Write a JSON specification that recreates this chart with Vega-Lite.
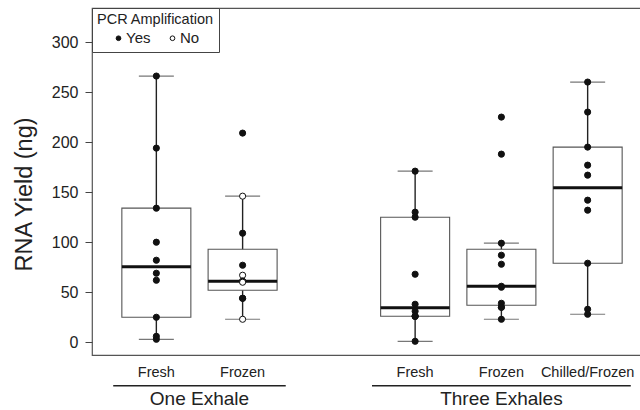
{
  "$schema": "https://vega.github.io/schema/vega-lite/v6.json",
  "autosize": {"type": "none"},
  "padding": {"left": 92, "top": 8, "right": 0, "bottom": 55},
  "width": 560,
  "height": 347,
  "background": "white",
  "config": {
    "view": {"stroke": "#555", "strokeWidth": 1.2},
    "font": "Liberation Sans"
  },
  "datasets": {
    "samples": [
      {"sample": "One Exhale|Fresh", "yield": 266, "pcr": "Yes"},
      {"sample": "One Exhale|Fresh", "yield": 194, "pcr": "Yes"},
      {"sample": "One Exhale|Fresh", "yield": 134, "pcr": "Yes"},
      {"sample": "One Exhale|Fresh", "yield": 100, "pcr": "Yes"},
      {"sample": "One Exhale|Fresh", "yield": 82, "pcr": "Yes"},
      {"sample": "One Exhale|Fresh", "yield": 69, "pcr": "Yes"},
      {"sample": "One Exhale|Fresh", "yield": 62, "pcr": "Yes"},
      {"sample": "One Exhale|Fresh", "yield": 25, "pcr": "Yes"},
      {"sample": "One Exhale|Fresh", "yield": 6, "pcr": "Yes"},
      {"sample": "One Exhale|Fresh", "yield": 3, "pcr": "Yes"},
      {"sample": "One Exhale|Frozen", "yield": 209, "pcr": "Yes"},
      {"sample": "One Exhale|Frozen", "yield": 146, "pcr": "No"},
      {"sample": "One Exhale|Frozen", "yield": 109, "pcr": "Yes"},
      {"sample": "One Exhale|Frozen", "yield": 77, "pcr": "Yes"},
      {"sample": "One Exhale|Frozen", "yield": 67, "pcr": "No"},
      {"sample": "One Exhale|Frozen", "yield": 61, "pcr": "Yes"},
      {"sample": "One Exhale|Frozen", "yield": 61, "pcr": "Yes"},
      {"sample": "One Exhale|Frozen", "yield": 60, "pcr": "No"},
      {"sample": "One Exhale|Frozen", "yield": 44, "pcr": "Yes"},
      {"sample": "One Exhale|Frozen", "yield": 44, "pcr": "Yes"},
      {"sample": "One Exhale|Frozen", "yield": 23, "pcr": "No"},
      {"sample": "Three Exhales|Fresh", "yield": 171, "pcr": "Yes"},
      {"sample": "Three Exhales|Fresh", "yield": 130, "pcr": "Yes"},
      {"sample": "Three Exhales|Fresh", "yield": 125, "pcr": "Yes"},
      {"sample": "Three Exhales|Fresh", "yield": 68, "pcr": "Yes"},
      {"sample": "Three Exhales|Fresh", "yield": 38, "pcr": "Yes"},
      {"sample": "Three Exhales|Fresh", "yield": 31, "pcr": "Yes"},
      {"sample": "Three Exhales|Fresh", "yield": 26, "pcr": "Yes"},
      {"sample": "Three Exhales|Fresh", "yield": 26, "pcr": "Yes"},
      {"sample": "Three Exhales|Fresh", "yield": 26, "pcr": "Yes"},
      {"sample": "Three Exhales|Fresh", "yield": 1, "pcr": "Yes"},
      {"sample": "Three Exhales|Frozen", "yield": 225, "pcr": "Yes"},
      {"sample": "Three Exhales|Frozen", "yield": 188, "pcr": "Yes"},
      {"sample": "Three Exhales|Frozen", "yield": 99, "pcr": "Yes"},
      {"sample": "Three Exhales|Frozen", "yield": 87, "pcr": "Yes"},
      {"sample": "Three Exhales|Frozen", "yield": 78, "pcr": "Yes"},
      {"sample": "Three Exhales|Frozen", "yield": 56, "pcr": "Yes"},
      {"sample": "Three Exhales|Frozen", "yield": 55, "pcr": "Yes"},
      {"sample": "Three Exhales|Frozen", "yield": 39, "pcr": "Yes"},
      {"sample": "Three Exhales|Frozen", "yield": 35, "pcr": "Yes"},
      {"sample": "Three Exhales|Frozen", "yield": 35, "pcr": "Yes"},
      {"sample": "Three Exhales|Frozen", "yield": 23, "pcr": "Yes"},
      {"sample": "Three Exhales|Chilled/Frozen", "yield": 260, "pcr": "Yes"},
      {"sample": "Three Exhales|Chilled/Frozen", "yield": 230, "pcr": "Yes"},
      {"sample": "Three Exhales|Chilled/Frozen", "yield": 195, "pcr": "Yes"},
      {"sample": "Three Exhales|Chilled/Frozen", "yield": 177, "pcr": "Yes"},
      {"sample": "Three Exhales|Chilled/Frozen", "yield": 167, "pcr": "Yes"},
      {"sample": "Three Exhales|Chilled/Frozen", "yield": 142, "pcr": "Yes"},
      {"sample": "Three Exhales|Chilled/Frozen", "yield": 132, "pcr": "Yes"},
      {"sample": "Three Exhales|Chilled/Frozen", "yield": 79, "pcr": "Yes"},
      {"sample": "Three Exhales|Chilled/Frozen", "yield": 33, "pcr": "Yes"},
      {"sample": "Three Exhales|Chilled/Frozen", "yield": 28, "pcr": "Yes"}
    ],
    "boxes": [
      {"sample": "One Exhale|Fresh", "lo": 3, "q1": 25, "median": 75.5, "q3": 134, "hi": 266},
      {"sample": "One Exhale|Frozen", "lo": 23, "q1": 52, "median": 61, "q3": 93, "hi": 146},
      {"sample": "Three Exhales|Fresh", "lo": 1, "q1": 26, "median": 34.5, "q3": 125, "hi": 171},
      {"sample": "Three Exhales|Frozen", "lo": 23, "q1": 37, "median": 56, "q3": 93, "hi": 99},
      {"sample": "Three Exhales|Chilled/Frozen", "lo": 28, "q1": 79, "median": 154.5, "q3": 195, "hi": 260}
    ],
    "groups": [
      {"group": "One Exhale", "first": "One Exhale|Fresh", "last": "One Exhale|Frozen"},
      {"group": "Three Exhales", "first": "Three Exhales|Fresh", "last": "Three Exhales|Chilled/Frozen"}
    ]
  },
  "layer": [
    {
      "data": {"name": "boxes"},
      "mark": {"type": "rule", "color": "#222", "strokeWidth": 1.4},
      "encoding": {
        "x": {
          "field": "sample",
          "type": "nominal",
          "scale": {
            "type": "band",
            "domain": ["One Exhale|Fresh", "One Exhale|Frozen", "gap", "Three Exhales|Fresh", "Three Exhales|Frozen", "Three Exhales|Chilled/Frozen"],
            "paddingInner": 0,
            "paddingOuter": 0.246
          },
          "axis": {
            "title": null,
            "domain": false,
            "ticks": false,
            "labelAngle": 0,
            "labelPadding": 10,
            "labelFontSize": 14.5,
            "labelColor": "#222",
            "labelOverlap": false,
            "labelExpr": "indexof(datum.value, '|') > 0 ? split(datum.value, '|')[1] : ''"
          }
        },
        "y": {
          "field": "lo",
          "type": "quantitative",
          "title": "RNA Yield (ng)",
          "scale": {"domain": [-12.7, 334], "nice": false, "zero": false},
          "axis": {
            "values": [0, 50, 100, 150, 200, 250, 300],
            "domain": false,
            "grid": false,
            "tickSize": 7,
            "tickColor": "#444",
            "labelPadding": 7,
            "labelFontSize": 16,
            "labelColor": "#222",
            "titleFontSize": 23.5,
            "titleFontWeight": "normal",
            "titleColor": "#222",
            "titleAngle": 270,
            "titleBaseline": "alphabetic",
            "titleAlign": "center",
            "titleX": -61,
            "titleY": 186
          }
        },
        "y2": {"field": "hi"}
      }
    },
    {
      "data": {"name": "boxes"},
      "mark": {"type": "tick", "color": "#777", "size": 35, "thickness": 1.2, "opacity": 1},
      "encoding": {
        "x": {"field": "sample", "type": "nominal"},
        "y": {"field": "lo", "type": "quantitative"}
      }
    },
    {
      "data": {"name": "boxes"},
      "mark": {"type": "tick", "color": "#777", "size": 35, "thickness": 1.2, "opacity": 1},
      "encoding": {
        "x": {"field": "sample", "type": "nominal"},
        "y": {"field": "hi", "type": "quantitative"}
      }
    },
    {
      "data": {"name": "boxes"},
      "mark": {"type": "bar", "fill": "white", "stroke": "#555", "strokeWidth": 1.1, "width": {"band": 0.8}},
      "encoding": {
        "x": {"field": "sample", "type": "nominal"},
        "y": {"field": "q1", "type": "quantitative"},
        "y2": {"field": "q3"}
      }
    },
    {
      "data": {"name": "boxes"},
      "mark": {"type": "tick", "color": "#111", "size": 69, "thickness": 3, "opacity": 1},
      "encoding": {
        "x": {"field": "sample", "type": "nominal"},
        "y": {"field": "median", "type": "quantitative"}
      }
    },
    {
      "data": {"name": "samples"},
      "mark": {"type": "point", "shape": "circle", "filled": true, "size": 38, "stroke": "#111", "strokeWidth": 1, "opacity": 1},
      "encoding": {
        "x": {"field": "sample", "type": "nominal"},
        "y": {"field": "yield", "type": "quantitative"},
        "fill": {
          "field": "pcr",
          "type": "nominal",
          "scale": {"domain": ["Yes", "No"], "range": ["#111", "#ffffff"]},
          "legend": {
            "title": "PCR Amplification",
            "orient": "top-left",
            "offset": 0,
            "direction": "horizontal",
            "strokeColor": "#444",
            "fillColor": "white",
            "padding": 5,
            "titleFontSize": 14.5,
            "titleFontWeight": "normal",
            "titleColor": "#222",
            "titlePadding": 3,
            "labelFontSize": 15,
            "labelColor": "#222",
            "labelOffset": 0,
            "symbolType": "circle",
            "symbolSize": 22,
            "symbolStrokeColor": "#111",
            "symbolStrokeWidth": 1,
            "symbolOffset": 14,
            "columnPadding": 0
          }
        }
      }
    },
    {
      "data": {"name": "groups"},
      "mark": {"type": "rule", "color": "#222", "strokeWidth": 1.6},
      "encoding": {
        "x": {"field": "first", "type": "nominal", "bandPosition": 0},
        "x2": {"field": "last", "bandPosition": 1},
        "y": {"datum": -43.4, "type": "quantitative"}
      }
    },
    {
      "data": {"values": [{"group": "One Exhale", "at": "One Exhale|Frozen"}]},
      "mark": {"type": "text", "fontSize": 19, "color": "#222", "baseline": "middle", "align": "center"},
      "encoding": {
        "x": {"field": "at", "type": "nominal", "bandPosition": 0},
        "y": {"datum": -57, "type": "quantitative"},
        "text": {"field": "group"}
      }
    },
    {
      "data": {"values": [{"group": "Three Exhales", "at": "Three Exhales|Frozen"}]},
      "mark": {"type": "text", "fontSize": 19, "color": "#222", "baseline": "middle", "align": "center"},
      "encoding": {
        "x": {"field": "at", "type": "nominal", "bandPosition": 0.5},
        "y": {"datum": -57, "type": "quantitative"},
        "text": {"field": "group"}
      }
    }
  ]
}
